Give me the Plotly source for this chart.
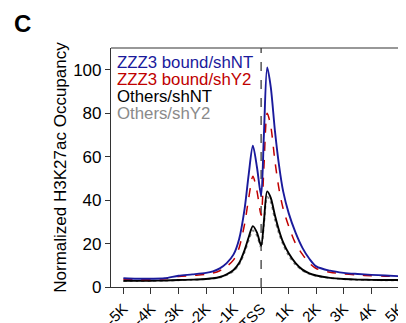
import plotly.graph_objects as go

# distance from TSS (kb)
pos_kb = [-5, -4.5, -4, -3.5, -3, -2.5, -2, -1.75, -1.5, -1.25, -1, -0.8, -0.6, -0.45, -0.3, -0.15, 0,
          0.1, 0.22, 0.35, 0.5, 0.65, 0.8, 1.0, 1.25, 1.5, 1.75, 2, 2.5, 3, 3.5, 4, 4.5, 5]

zzz3_shNT = [4.0, 3.8, 3.8, 4.0, 5.2, 5.8, 6.5, 7.2, 8.6, 11, 15, 22, 36, 52, 65, 55, 42,
             70, 101, 92, 72, 56, 44, 34, 25, 18, 13, 9.5, 7.5, 6.5, 6.0, 5.6, 5.3, 5.0]
zzz3_shY2 = [3.6, 3.5, 3.5, 3.8, 4.8, 5.3, 5.8, 6.4, 7.5, 9.5, 12.5, 18, 29, 41, 51, 44, 33,
             55, 80, 74, 58, 45, 36, 28, 20, 15, 11, 8.5, 6.8, 6.0, 5.5, 5.2, 5.0, 4.8]
others_shNT = [2.8, 2.8, 2.9, 3.0, 3.2, 3.4, 3.7, 4.0, 4.6, 5.8, 7.8, 11, 17, 23, 28, 25, 19,
               30, 44, 41, 33, 26, 20.5, 15.5, 11, 8.0, 6.3, 5.3, 4.2, 3.7, 3.4, 3.3, 3.2, 3.2]
others_shY2 = [2.7, 2.7, 2.8, 2.9, 3.1, 3.3, 3.6, 3.9, 4.4, 5.5, 7.3, 10.3, 16, 21.5, 26, 23.5, 18,
               28.5, 41.5, 39, 31, 24.5, 19.5, 14.5, 10.3, 7.6, 6.0, 5.1, 4.1, 3.6, 3.3, 3.2, 3.1, 3.1]

tick_vals = [-5, -4, -3, -2, -1, 0, 1, 2, 3, 4, 5]
tick_text = ["-5K", "-4K", "-3K", "-2K", "-1K", "TSS", "1K", "2K", "3K", "4K", "5K"]
y_ticks = [0, 20, 40, 60, 80, 100]

series = [
    ("ZZZ3 bound/shNT", zzz3_shNT, "#1a1a9c", "solid", 1.9),
    ("ZZZ3 bound/shY2", zzz3_shY2, "#c00000", "dash", 1.5),
    ("Others/shNT", others_shNT, "#000000", "solid", 1.9),
    ("Others/shY2", others_shY2, "#8a8a8a", "dot", 1.8),
]

fig = go.Figure()
for name, vals, col, dash, w in reversed(series):
    fig.add_trace(go.Scatter(x=pos_kb, y=vals, mode="lines", name=name,
                             line=dict(color=col, dash=dash, width=w, shape="spline", smoothing=0.8),
                             showlegend=False))

font = "Liberation Sans, Arial, sans-serif"
OFF = 8  # page body margin
W, H = 406 - OFF, 323 - OFF
L, T = 111 - OFF, 48 - OFF
R = W - (403 - OFF)
B = H - (287 - OFF)
pw, ph = W - L - R, H - T - B

def px(sx):
    return (sx - OFF - L) / pw

def py(sy):
    return (H - B - (sy - OFF)) / ph

fig.update_layout(
    width=W, height=H,
    margin=dict(l=L, r=R, t=T, b=B, autoexpand=False),
    paper_bgcolor="white", plot_bgcolor="white",
    font=dict(family=font, color="black"),
    xaxis=dict(range=[-5.45, 5.15], tickvals=tick_vals, ticktext=tick_text, tickangle=-45,
               showgrid=False, zeroline=False, showline=True, linecolor="#333", linewidth=1.2,
               ticks="outside", ticklen=6, tickcolor="#333", tickfont=dict(size=15, family=font),
               automargin=False, ticklabeloverflow="allow"),
    yaxis=dict(range=[0, 110], tickvals=y_ticks, showgrid=False, zeroline=False, showline=True,
               linecolor="#333", linewidth=1.2, ticks="outside", ticklen=5, tickcolor="#333",
               tickfont=dict(size=17, family=font), automargin=False,
               title=dict(text="Normalized H3K27ac Occupancy", font=dict(size=17, family=font), standoff=2)),
)

fig.add_shape(type="line", xref="paper", yref="paper", x0=0, x1=1, y0=1, y1=1,
              line=dict(color="#333", width=1.2))
fig.add_shape(type="line", xref="x", yref="paper", x0=0, x1=0, y0=0, y1=1,
              line=dict(color="#555", width=1.5, dash="dash"), layer="below")

centers_px = [62, 79.5, 96.5, 113]
for (name, vals, col, dash, w), cy in zip(series, centers_px):
    fig.add_annotation(x=px(116), y=py(cy), xref="paper", yref="paper",
                       xanchor="left", yanchor="middle", text=name, showarrow=False, borderpad=0,
                       font=dict(size=16.8, color=col, family=font))

fig.add_annotation(x=px(22), y=py(24), xref="paper", yref="paper",
                   xanchor="center", yanchor="middle", text="<b>C</b>", showarrow=False,
                   font=dict(size=24, family=font))

fig.write_html("out.html")
